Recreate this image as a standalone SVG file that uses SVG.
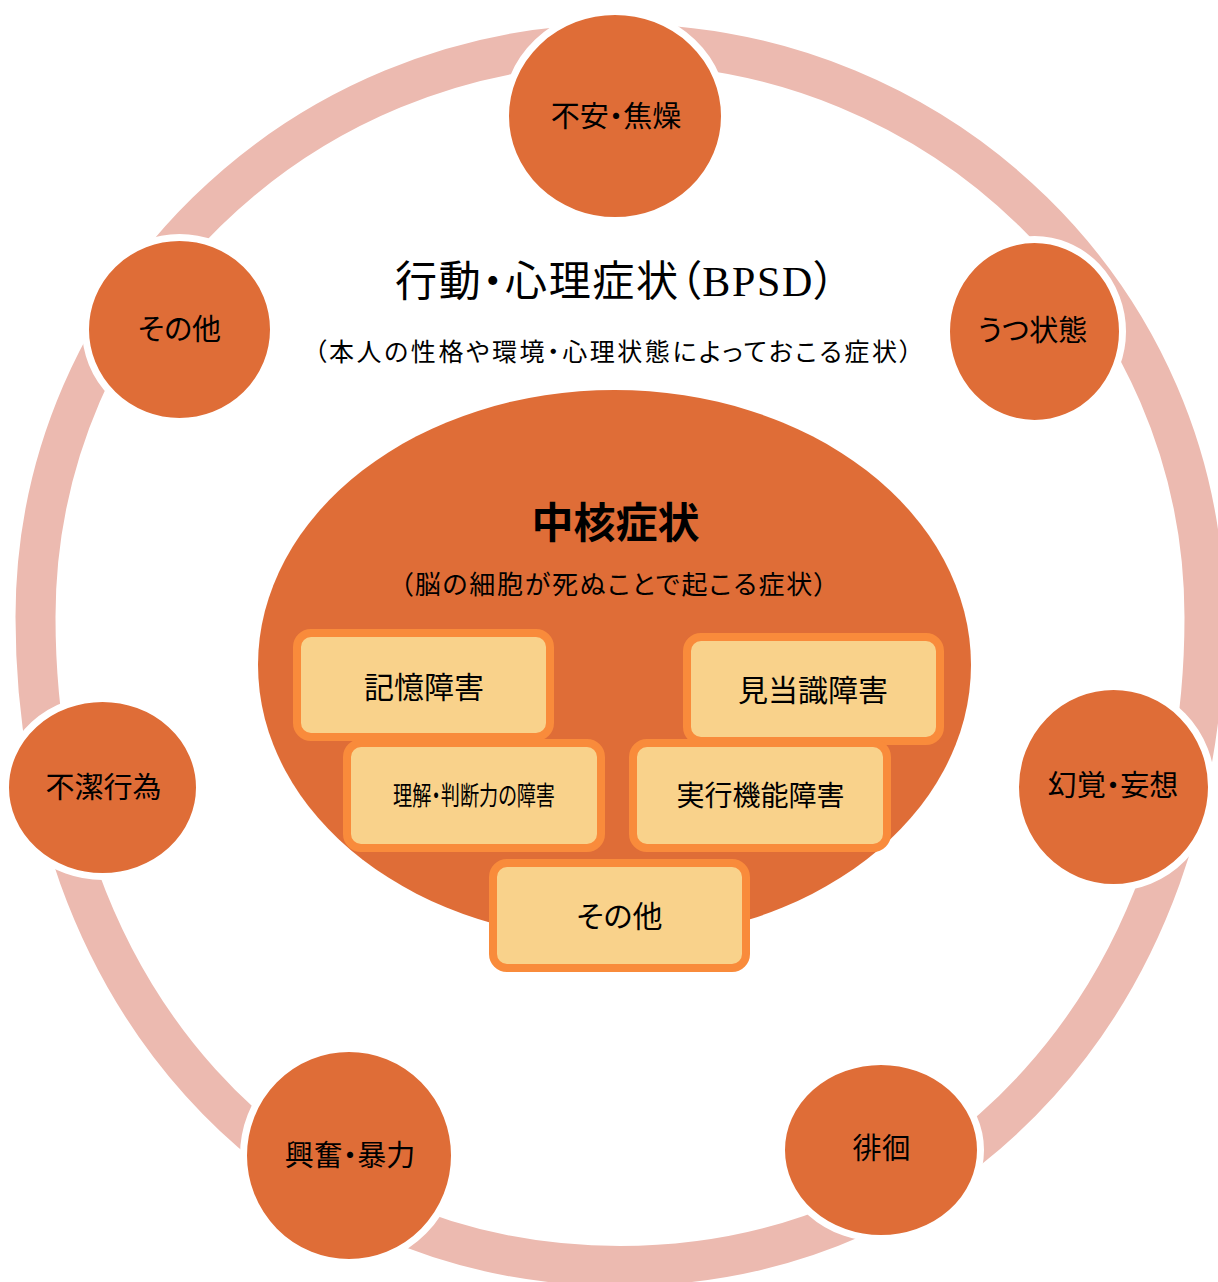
<svg xmlns="http://www.w3.org/2000/svg" width="1218" height="1282" viewBox="0 0 1218 1282">
<style>
.ring{fill:none;stroke:#ECBAB0;stroke-width:40}
.node{fill:#DF6D37;stroke:#FFFFFF;stroke-width:7}
.core{fill:#DF6D37}
.box{fill:#F9D28B;stroke:#F98B3B;stroke-width:8}
text{font-family:"Noto Sans CJK JP",sans-serif;fill:#000000;text-anchor:middle;font-feature-settings:"palt"}
.title{font-family:"Liberation Serif","Noto Sans CJK JP",serif;font-size:42px}
.sub{font-size:25px}
.ntxt{font-size:29px}
.btxt{font-size:30px}
</style>
<rect width="1218" height="1282" fill="#FFFFFF"/>
<g id="connectors">
<path class="ring" d="M35.5,617 C35.5,300.5 297.2,44 620,44 C942.8,44 1204.5,300.5 1204.5,617 C1204.5,993.4 959,1266 620,1266 C281,1266 35.5,993.4 35.5,617 Z"/>
</g>
<g id="bpsd-title">
<text class="title" x="615" y="296" textLength="440">行動・心理症状（BPSD）</text>
<text class="sub" x="613" y="361" textLength="598">（本人の性格や環境・心理状態によっておこる症状）</text>
</g>
<g id="node-fuan">
<ellipse class="node" cx="615" cy="116" rx="109.5" ry="104.5"/>
<text class="ntxt" x="616" y="127">不安・焦燥</text>
</g>
<g id="node-utsu">
<ellipse class="node" cx="1034.5" cy="331.5" rx="88" ry="92"/>
<text class="ntxt" x="1032.5" y="341">うつ状態</text>
</g>
<g id="node-genkaku">
<ellipse class="node" cx="1113.5" cy="787" rx="98" ry="100.5"/>
<text class="ntxt" x="1113" y="796">幻覚・妄想</text>
</g>
<g id="node-haikai">
<ellipse class="node" cx="881" cy="1150" rx="99.5" ry="88.5"/>
<text class="ntxt" x="881.5" y="1159">徘徊</text>
</g>
<g id="node-kofun">
<ellipse class="node" cx="349" cy="1155.5" rx="105.5" ry="107"/>
<text class="ntxt" x="350" y="1166">興奮・暴力</text>
</g>
<g id="node-fuketsu">
<ellipse class="node" cx="102.5" cy="787.5" rx="97" ry="89"/>
<text class="ntxt" x="103.5" y="798">不潔行為</text>
</g>
<g id="node-sonota">
<ellipse class="node" cx="179.5" cy="329.5" rx="94" ry="92"/>
<text class="ntxt" x="179.5" y="340">その他</text>
</g>
<g id="core">
<ellipse class="core" cx="614.5" cy="665" rx="356.5" ry="275"/>
<text x="615.5" y="537.5" style="font-size:42px;font-weight:bold">中核症状</text>
<text x="613.5" y="594" style="font-size:26px" textLength="427">（脳の細胞が死ぬことで起こる症状）</text>
</g>
<g id="box-kioku">
<rect class="box" x="297" y="633" width="253" height="104" rx="14"/>
<text class="btxt" x="424" y="698">記憶障害</text>
</g>
<g id="box-kentoshiki">
<rect class="box" x="687" y="637" width="253" height="104" rx="14"/>
<text class="btxt" x="813" y="701">見当識障害</text>
</g>
<g id="box-rikai">
<rect class="box" x="347" y="743" width="254" height="105" rx="14"/>
<text x="474" y="805" style="font-size:26px" textLength="162" lengthAdjust="spacingAndGlyphs">理解・判断力の障害</text>
</g>
<g id="box-jikko">
<rect class="box" x="633" y="743" width="254" height="105" rx="14"/>
<text x="760.5" y="806" style="font-size:28px">実行機能障害</text>
</g>
<g id="box-sonota">
<rect class="box" x="493" y="863" width="253" height="105" rx="14"/>
<text class="btxt" x="619.5" y="927">その他</text>
</g>
</svg>
